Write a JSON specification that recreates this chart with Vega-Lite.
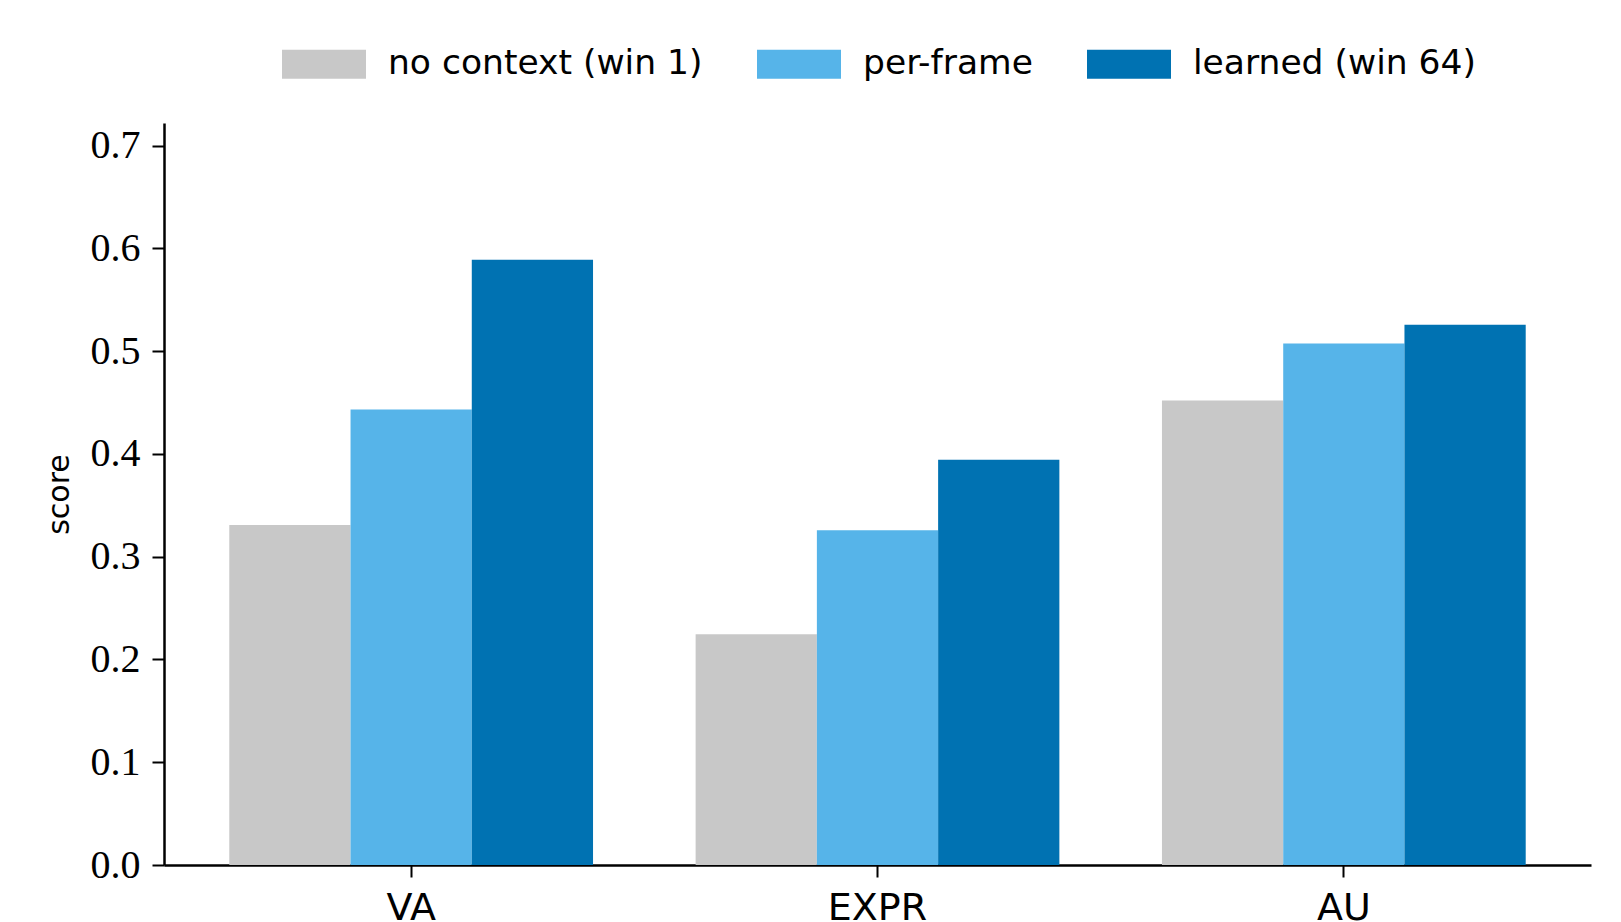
{
  "$schema": "https://vega.github.io/schema/vega-lite/v6.json",
  "autosize": "none",
  "width": 1427,
  "height": 742,
  "padding": {"left": 164, "top": 123, "right": 30, "bottom": 57},
  "background": "white",
  "data": {
    "values": [
      {"task": "VA", "method": "no context (win 1)", "score": 0.3308},
      {"task": "VA", "method": "per-frame", "score": 0.4433},
      {"task": "VA", "method": "learned (win 64)", "score": 0.5889},
      {"task": "EXPR", "method": "no context (win 1)", "score": 0.2246},
      {"task": "EXPR", "method": "per-frame", "score": 0.3257},
      {"task": "EXPR", "method": "learned (win 64)", "score": 0.3944},
      {"task": "AU", "method": "no context (win 1)", "score": 0.4521},
      {"task": "AU", "method": "per-frame", "score": 0.5075},
      {"task": "AU", "method": "learned (win 64)", "score": 0.5257}
    ]
  },
  "mark": {"type": "bar"},
  "encoding": {
    "x": {
      "field": "task",
      "type": "nominal",
      "sort": ["VA", "EXPR", "AU"],
      "scale": {"paddingInner": 0.22, "paddingOuter": 0.14},
      "axis": {
        "title": null,
        "labelAngle": 0,
        "labelFont": "DejaVu Sans",
        "labelFontSize": 38,
        "labelColor": "black",
        "labelPadding": 12,
        "tickSize": 12,
        "tickWidth": 2,
        "tickColor": "black",
        "domainColor": "black",
        "domainWidth": 2.5
      }
    },
    "xOffset": {
      "field": "method",
      "type": "nominal",
      "sort": ["no context (win 1)", "per-frame", "learned (win 64)"],
      "scale": {"paddingInner": 0, "paddingOuter": 0}
    },
    "y": {
      "field": "score",
      "type": "quantitative",
      "scale": {"domain": [0, 0.722], "nice": false, "zero": true},
      "axis": {
        "title": "score",
        "titleFont": "DejaVu Sans",
        "titleFontSize": 30,
        "titleFontWeight": "normal",
        "titleColor": "black",
        "titlePadding": 16,
        "values": [0, 0.1, 0.2, 0.3, 0.4, 0.5, 0.6, 0.7],
        "format": ".1f",
        "labelFont": "Liberation Serif",
        "labelFontSize": 40,
        "labelColor": "black",
        "labelPadding": 12,
        "tickSize": 12,
        "tickWidth": 2,
        "tickColor": "black",
        "domainColor": "black",
        "domainWidth": 2.5,
        "grid": false
      }
    },
    "color": {
      "field": "method",
      "type": "nominal",
      "sort": ["no context (win 1)", "per-frame", "learned (win 64)"],
      "scale": {
        "domain": ["no context (win 1)", "per-frame", "learned (win 64)"],
        "range": ["#c8c8c8", "#56b4e9", "#0072b2"]
      },
      "legend": {
        "orient": "none",
        "direction": "horizontal",
        "legendX": 118,
        "legendY": -101,
        "title": null,
        "padding": 0,
        "symbolType": "M-1,-0.345H1V0.345H-1Z",
        "symbolSize": 7056,
        "symbolStrokeWidth": 0,
        "symbolOpacity": 1,
        "labelFont": "DejaVu Sans",
        "labelFontSize": 34.5,
        "labelColor": "black",
        "labelOffset": 22,
        "labelLimit": 600,
        "columnPadding": 54
      }
    }
  },
  "config": {
    "view": {"stroke": null},
    "axis": {"grid": false}
  }
}
